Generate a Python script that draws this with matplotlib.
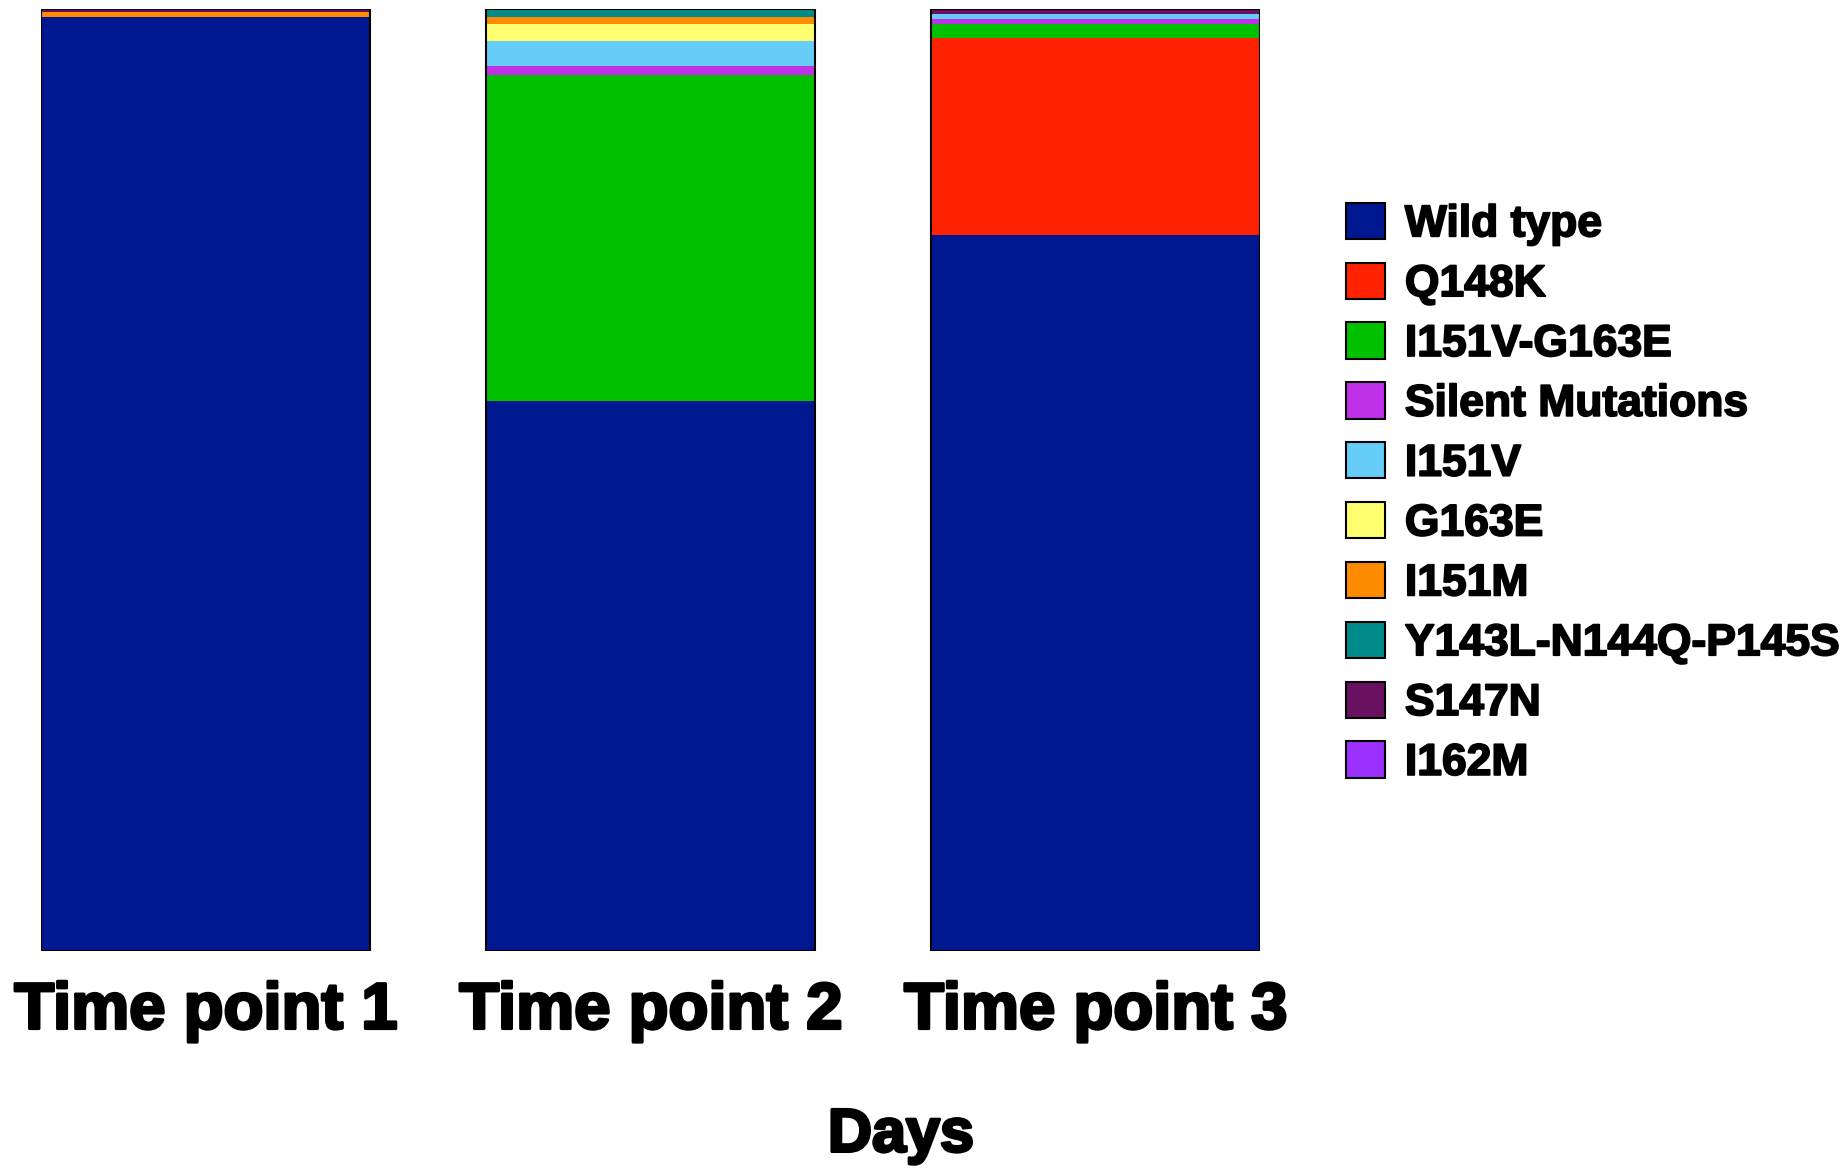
import numpy as np
import matplotlib.pyplot as plt
import matplotlib.patheffects as pe
from matplotlib.patches import Patch

# --- data ---
time_points = ["Time point 1", "Time point 2", "Time point 3"]
variants = ["Wild type", "Q148K", "I151V-G163E", "Silent Mutations", "I151V",
            "G163E", "I151M", "Y143L-N144Q-P145S", "S147N", "I162M"]
colors = ["#00188f", "#ff2200", "#00c000", "#c030e8", "#66ccf8",
          "#ffff70", "#ff8c00", "#008b8b", "#6a1060", "#9b30ff"]

wild_type = [99.1, 58.4, 76.0]
q148k = [0.0, 0.0, 20.9]
i151v_g163e = [0.0, 34.6, 1.5]
silent = [0.0, 0.9, 0.5]
i151v = [0.0, 2.7, 0.6]
g163e = [0.0, 1.8, 0.0]
i151m = [0.6, 0.8, 0.0]
y143l = [0.0, 0.8, 0.0]
s147n = [0.3, 0.0, 0.5]
i162m = [0.0, 0.0, 0.0]

series = [wild_type, q148k, i151v_g163e, silent, i151v,
          g163e, i151m, y143l, s147n, i162m]

plt.rcParams['font.family'] = ['Liberation Sans', 'DejaVu Sans']
heavy = [pe.withStroke(linewidth=2.2, foreground='black')]

fig = plt.figure(figsize=(18.43, 11.68), dpi=100)
ax = fig.add_axes([41 / 1843, 1 - 951 / 1168, 1219 / 1843, 942 / 1168])

x = np.arange(len(time_points))
width = 0.74
bottom = np.zeros(len(time_points))
for vals, col in zip(series, colors):
    vals = np.array(vals)
    ax.bar(x, vals, width, bottom=bottom, color=col, edgecolor='none')
    bottom += vals
# outline of each bar
ax.bar(x, bottom, width, fill=False, edgecolor='black', linewidth=1.5)

ax.set_xlim(-0.37, 2.37)
ax.set_ylim(0, 100)
for s in ax.spines.values():
    s.set_visible(False)
ax.set_yticks([])
ax.set_xticks(x)
ax.set_xticklabels(time_points, fontsize=47, fontweight='bold')
ax.tick_params(axis='x', length=0, pad=22)
for lab in ax.get_xticklabels():
    lab.set_path_effects(heavy)

fig.text(901 / 1843, 1 - 1136 / 1168, "Days", fontsize=44, fontweight='bold',
         ha='center', va='center', path_effects=heavy)

handles = [Patch(facecolor=c, edgecolor='black', linewidth=1.5) for c in colors]
leg = fig.legend(handles, variants, loc='upper left',
                 bbox_to_anchor=(1328 / 1843, 1 - 185 / 1168),
                 frameon=False, fontsize=32, handlelength=0.88, handleheight=0.88,
                 handletextpad=0.45, labelspacing=0.39, borderaxespad=0)
for t in leg.get_texts():
    t.set_fontweight('bold')
    t.set_path_effects([pe.withStroke(linewidth=1.3, foreground='black')])

fig.savefig("out.png", dpi=100)
